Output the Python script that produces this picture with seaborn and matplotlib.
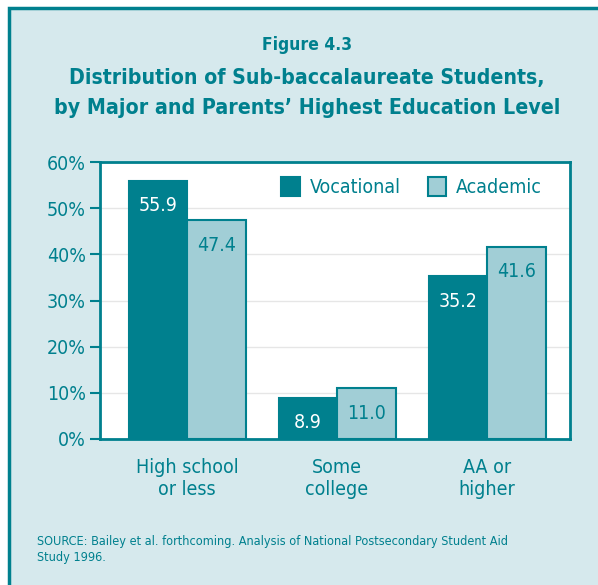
import seaborn as sns
import matplotlib.pyplot as plt
import pandas as pd
from matplotlib.patches import Rectangle

# data
categories = ['High school\nor less', 'Some\ncollege', 'AA or\nhigher']
vocational = [55.9, 8.9, 35.2]
academic = [47.4, 11.0, 41.6]
yticks = [0, 10, 20, 30, 40, 50, 60]

teal = '#00808e'
light = '#a1ced6'
bg = '#d6e9ed'

data = pd.DataFrame({
    'Category': categories * 2,
    'Value': vocational + academic,
    'Major': ['Vocational'] * 3 + ['Academic'] * 3,
})

sns.set_style('white')
plt.rcParams['font.family'] = ['DejaVu Sans']
plt.rcParams['font.stretch'] = 'condensed'

fig = plt.figure(figsize=(5.98, 5.85), dpi=100)
fig.patch.set_facecolor('white')
# light blue panel with teal border on left/top (cut off on right/bottom)
fig.patches.append(Rectangle((9 / 598, -0.1), 1.2, (585 - 8) / 585 + 0.1, transform=fig.transFigure,
                             facecolor=bg, edgecolor=teal, linewidth=2.5, zorder=-10))

ax = fig.add_axes([100 / 598, 146 / 585, 470 / 598, 277 / 585])
ax.set_facecolor('white')
sns.barplot(data=data, x='Category', y='Value', hue='Major', order=categories,
            hue_order=['Vocational', 'Academic'], palette=[teal, light], saturation=1,
            width=0.78, edgecolor=teal, linewidth=1.5, ax=ax, zorder=3)

ax.set_ylim(0, 60)
ax.set_xlim(-0.58, 2.553)
ax.set_yticks(yticks)
ax.set_yticklabels([f'{t}%' for t in yticks])
ax.yaxis.grid(True, color='#e6e6e6', linewidth=1, zorder=0)
ax.set_axisbelow(True)
ax.tick_params(axis='y', left=True, length=7, width=1.5, color=teal, labelcolor=teal,
               labelsize=14, pad=3)
ax.tick_params(axis='x', bottom=False, labelcolor=teal, labelsize=14, pad=10)
for s in ax.spines.values():
    s.set_color(teal)
    s.set_linewidth(2)
ax.set_xlabel('')
ax.set_ylabel('')

# value labels inside bar tops
for cont, col in zip(ax.containers, ['white', teal]):
    for p in cont:
        h = p.get_height()
        ax.annotate(f'{h:.1f}', (p.get_x() + p.get_width() / 2, h), xytext=(0, -25),
                    textcoords='offset pixels', ha='center', va='center', color=col,
                    fontsize=14, zorder=5)

leg = ax.legend(loc='upper right', ncol=2, frameon=False, fontsize=14, labelcolor=teal,
                handlelength=0.95, handleheight=1.15, columnspacing=1.4, handletextpad=0.5,
                bbox_to_anchor=(0.977, 1.01))

fig.text(0.513, 1 - 45 / 585, 'Figure 4.3', ha='center', va='center',
         color=teal, fontsize=12.5, fontweight='bold')
fig.text(0.513, 1 - 78 / 585, 'Distribution of Sub-baccalaureate Students,', ha='center',
         va='center', color=teal, fontsize=15.2, fontweight='bold')
fig.text(0.513, 1 - 108 / 585, 'by Major and Parents\u2019 Highest Education Level', ha='center',
         va='center', color=teal, fontsize=15.3, fontweight='bold')
fig.text(37 / 598, 1 - 549 / 585, 'SOURCE: Bailey et al. forthcoming. Analysis of National Postsecondary Student Aid\nStudy 1996.',
         ha='left', va='center', color=teal, fontsize=9.1, linespacing=1.3)

plt.savefig('out.png', dpi=100, facecolor=fig.get_facecolor())
